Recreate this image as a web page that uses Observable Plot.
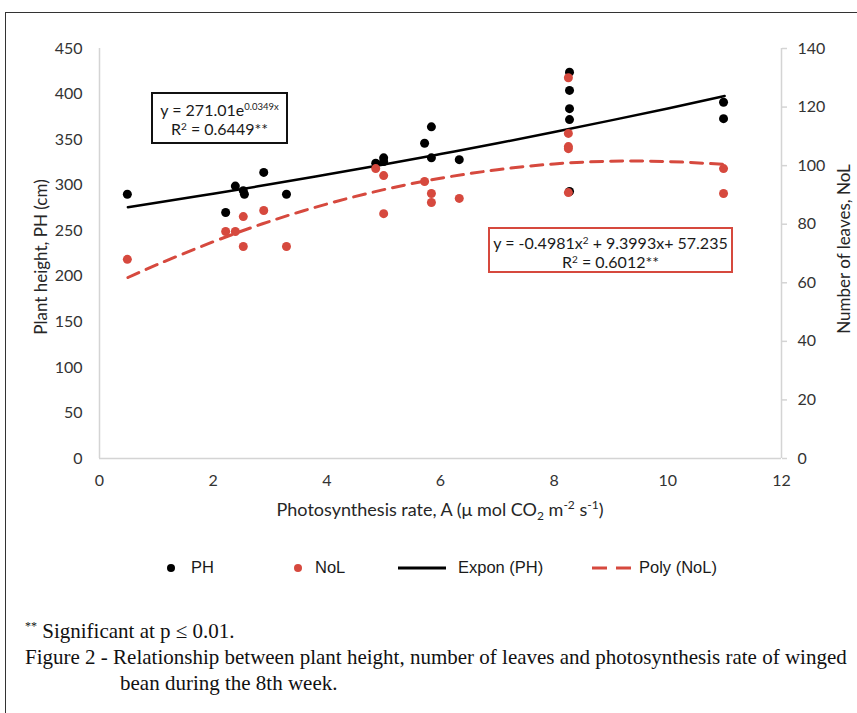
<!DOCTYPE html>
<html>
<head>
<meta charset="utf-8">
<script src="https://cdn.jsdelivr.net/npm/d3@7"></script>
<script src="https://cdn.jsdelivr.net/npm/@observablehq/plot@0.6"></script>
<style>
  html, body { margin: 0; padding: 0; background: #fff; }
  body { width: 857px; height: 713px; position: relative; overflow: hidden; }
  .abs { position: absolute; white-space: nowrap; }
  .frame { position: absolute; left: 5px; top: 12px; width: 900px; height: 800px;
           border-top: 1.5px solid #333; border-left: 1.5px solid #333; }
  .axtitle { font-family: Lato, sans-serif; font-size: 17px; color: #262626; }
  .eq { position: absolute; box-sizing: border-box; font-family: Lato, sans-serif; font-size: 16px;
        color: #1a1a1a; text-align: center; line-height: 19px; background: #fff; }
  .eq sup { font-size: 9.5px; vertical-align: 6px; line-height: 0; }
  .eq sup.s2 { font-size: 10px; vertical-align: 5px; }
  .leg { font-family: "Liberation Sans", Arial, sans-serif; font-size: 16.5px; color: #1a1a1a; }
  .cap { font-family: "Liberation Serif", "Times New Roman", serif; font-size: 21px; color: #111; }
</style>
</head>
<body>
<div class="frame"></div>
<div id="chart" class="abs" style="left:0;top:0"></div>

<div class="abs axtitle" style="left:40px;top:257px;transform:translate(-50%,-50%) rotate(-90deg)">Plant height, PH (cm)</div>
<div class="abs axtitle" style="left:843px;top:249px;transform:translate(-50%,-50%) rotate(-90deg)">Number of leaves, NoL</div>
<div class="abs axtitle" style="left:440px;top:510px;font-size:18px;transform:translate(-50%,-50%)">Photosynthesis rate, A (μ mol CO<sub style="font-size:12px">2</sub> m<sup style="font-size:12px">-2</sup> s<sup style="font-size:12px">-1</sup>)</div>

<div class="eq" style="left:151px;top:92px;width:137px;height:52px;border:2.5px solid #111;padding-top:6px">y = 271.01e<sup>0.0349x</sup><br>R<sup class="s2">2</sup> = 0.6449**</div>
<div class="eq" style="left:488px;top:227px;width:245px;height:46px;border:2.5px solid #d6493e;padding-top:4px">y = -0.4981x<sup class="s2">2</sup> + 9.3993x+ 57.235<br>R<sup class="s2">2</sup> = 0.6012**</div>

<div id="legend"></div>

<div class="abs cap" style="left:25px;top:619px"><sup style="font-size:12px">**</sup> Significant at p ≤ 0.01.</div>
<div class="abs cap" style="left:25px;top:645px">Figure 2 - Relationship between plant height, number of leaves and photosynthesis rate of winged</div>
<div class="abs cap" style="left:120px;top:671px">bean during the 8th week.</div>

<script>
// ---- data ----
const phX  = [0.49, 2.22, 2.39, 2.53, 2.55, 2.89, 3.29, 4.86, 5.0, 5.0, 5.72, 5.84, 5.84, 6.33, 8.27, 8.27, 8.27, 8.27, 8.27, 10.98, 10.98];
const phY  = [290, 270, 299, 294, 290, 314, 290, 324, 330, 326, 346, 364, 330, 328, 424, 404, 384, 372, 293, 391, 373];
const nolX = [0.49, 2.22, 2.39, 2.53, 2.53, 2.89, 3.29, 4.86, 5.0, 5.0, 5.72, 5.84, 5.84, 6.33, 8.25, 8.25, 8.25, 8.25, 8.25, 10.98, 10.98];
const nolY = [68, 77.5, 77.5, 82.6, 72.4, 84.7, 72.4, 99, 96.6, 83.6, 94.6, 90.5, 87.4, 88.8, 130, 111, 106.5, 105.8, 90.8, 99, 90.5];
// trend lines (Expon PH, Poly NoL)
const trendX   = [0.5, 1, 2, 3, 4, 5, 6, 7, 8, 9, 10, 11];
const phTrend  = [275.8, 280.6, 290.6, 300.9, 311.6, 322.7, 334.2, 346.0, 358.3, 371.1, 384.2, 397.9];
const nolTrend = [61.8, 66.1, 74.0, 81.0, 86.9, 91.8, 95.7, 98.6, 100.6, 101.5, 101.4, 100.4];
// ticks
const xTicks   = [0, 2, 4, 6, 8, 10, 12];
const phTicks  = [0, 50, 100, 150, 200, 250, 300, 350, 400, 450];
const nolTicks = [0, 20, 40, 60, 80, 100, 120, 140];
const legendItems = ["PH", "NoL", "Expon (PH)", "Poly (NoL)"];

const RED = "#d6493e";
const AX = "#d4d4d4";
const PH_MAX = 450, NOL_MAX = 140;
const k = PH_MAX / NOL_MAX; // map NoL onto the left (PH) scale

const ph = phX.map((x, i) => ({x, y: phY[i]}));
const nol = nolX.map((x, i) => ({x, y: nolY[i] * k}));
const phT = trendX.map((x, i) => ({x, y: phTrend[i]}));
const nolT = trendX.map((x, i) => ({x, y: nolTrend[i] * k}));

const chart = Plot.plot({
  width: 857, height: 530,
  marginLeft: 99, marginRight: 76, marginTop: 48, marginBottom: 72,
  x: {domain: [0, 12]},
  y: {domain: [0, PH_MAX]},
  style: {fontFamily: "Lato, sans-serif", fontSize: "16px", color: "#333", background: "transparent", overflow: "visible"},
  marks: [
    Plot.ruleY([0], {stroke: AX, strokeWidth: 1.5}),
    Plot.ruleX([0], {stroke: AX, strokeWidth: 1.5}),
    Plot.ruleX([12], {stroke: AX, strokeWidth: 1.5}),
    Plot.axisY({anchor: "left", ticks: phTicks, tickSize: 0, tickPadding: 17, label: null, fill: "#333"}),
    Plot.axisY({anchor: "right", ticks: nolTicks.map(v => v * k), tickFormat: d => Math.round(d / k),
                tickSize: 5, tickPadding: 11, stroke: AX, strokeWidth: 1.5, label: null, fill: "#333"}),
    Plot.axisX({ticks: xTicks, tickSize: 0, tickPadding: 16, label: null, fill: "#333"}),
    Plot.line(nolT, {x: "x", y: "y", stroke: RED, strokeWidth: 3, strokeDasharray: "12,8", curve: "natural"}),
    Plot.line(phT, {x: "x", y: "y", stroke: "#000", strokeWidth: 2.5, curve: "natural"}),
    Plot.dot(ph, {x: "x", y: "y", r: 4.5, fill: "#000"}),
    Plot.dot(nol, {x: "x", y: "y", r: 4.5, fill: RED})
  ]
});
document.getElementById("chart").appendChild(chart);

// legend
const lg = document.getElementById("legend");
const LY = 568;
function add(html, left) {
  const d = document.createElement("div");
  d.className = "abs leg";
  d.style.left = left + "px";
  d.style.top = (LY - 10) + "px";
  d.innerHTML = html;
  lg.appendChild(d);
}
add(`<svg width="10" height="20"><circle cx="5" cy="10" r="4" fill="#000"/></svg>`, 166);
add(legendItems[0], 191);
add(`<svg width="10" height="20"><circle cx="5" cy="10" r="4" fill="${RED}"/></svg>`, 293);
add(legendItems[1], 315);
add(`<svg width="50" height="20"><line x1="0" x2="48" y1="10" y2="10" stroke="#000" stroke-width="3"/></svg>`, 398);
add(legendItems[2], 458);
add(`<svg width="42" height="20"><line x1="0" x2="40" y1="10" y2="10" stroke="${RED}" stroke-width="3" stroke-dasharray="15,9"/></svg>`, 592);
add(legendItems[3], 639);
</script>
</body>
</html>
